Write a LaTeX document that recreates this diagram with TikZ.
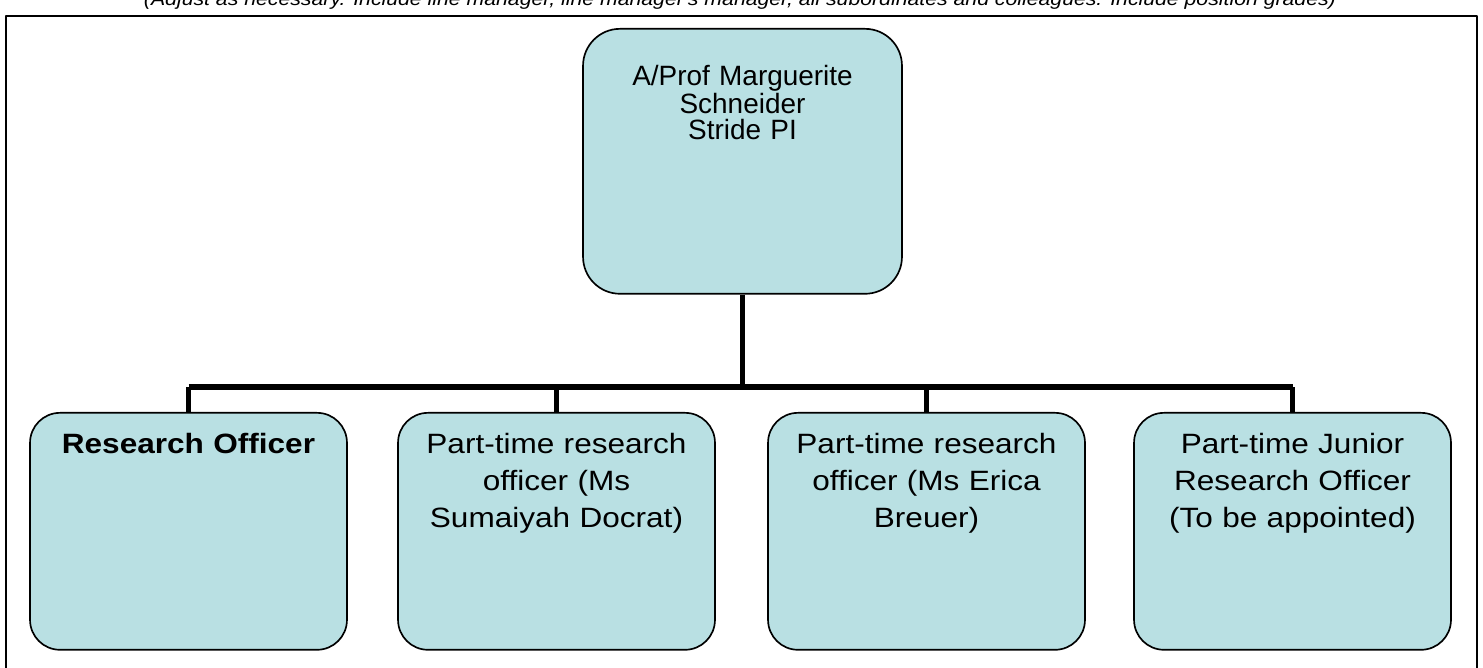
\documentclass[tikz,border=0pt]{standalone}
\usepackage{fontspec}
\setmainfont{Liberation Sans}
\newfontfamily\widefont[FakeStretch=1.13]{Liberation Sans}
\definecolor{boxblue}{RGB}{185,224,227}
\begin{document}
\begin{tikzpicture}[x=0.02cm,y=-0.02cm,line join=round,
	post/.style={draw=black,line width=0.95pt,fill=boxblue,rounded corners=0.6cm,anchor=north,inner sep=0pt,
		minimum width=6.34cm,text width=6.2cm,align=center,text height=0.82cm,text depth=3.92cm,
		font=\widefont\fontsize{15.9}{21.05}\selectfont},
	headpost/.style={post,rounded corners=0.74cm,minimum width=6.38cm,text height=1.14cm,text depth=4.16cm,
		font=\fontsize{15.9}{14.6}\selectfont},
	link/.style={line width=2.9pt}]
	\useasboundingbox (0,0) rectangle (1483,668);
	\node[anchor=base,font=\widefont\itshape\fontsize{10.7}{12}\selectfont] (note) at (740,6)
		{(Adjust as necessary. Include line manager, line manager's manager, all subordinates and colleagues. Include position grades)};
	\draw[line width=1.1pt] (6,720) -- (6,16) -- (1477,16) -- (1477,720);
	\node[headpost] (pi) at (742.5,28) {A/Prof Marguerite\\Schneider\\Stride PI};
	\node[post] (ro) at (188.5,412) {\bfseries Research Officer};
	\node[post] (sd) at (556.5,412) {Part-time research\\officer (Ms\\Sumaiyah Docrat)};
	\node[post] (eb) at (926.5,412) {Part-time research\\officer (Ms Erica\\Breuer)};
	\node[post] (jro) at (1292.5,412) {Part-time Junior\\Research Officer\\(To be appointed)};
	\coordinate (busL) at (188.5,387);
	\coordinate (busR) at (1292.5,387);
	\draw[link] (busL) -- (busR);
	\draw[link] (pi.south) -- (pi.south |- busL);
	\foreach \n in {ro,sd,eb,jro}
		\draw[link] (\n.north) -- (\n.north |- busL);
\end{tikzpicture}
\end{document}
